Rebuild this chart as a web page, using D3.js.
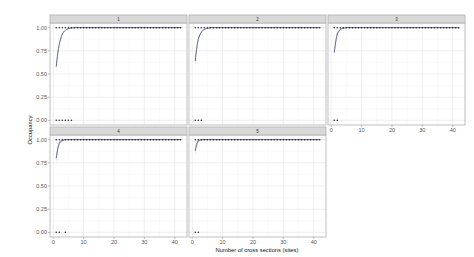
<!DOCTYPE html>
<html><head><meta charset="utf-8">
<script src="https://cdn.jsdelivr.net/npm/d3@7"></script>
<style>body{margin:0;background:#fff}svg{display:block}</style>
</head><body>
<svg id="c" width="474" height="257"></svg>
<script>
// ---- data ----
const panelLabels = ["1", "2", "3", "4", "5"];
const sites = [1,2,3,4,5,6,7,8,9,10,11,12,13,14,15,16,17,18,19,20,21,22,23,24,25,26,27,28,29,30,31,32,33,34,35,36,37,38,39,40,41,42];
// sites where species was not detected (plotted at 0)
const zeros1 = [1,2,3,4,5,6];
const zeros2 = [1,2,3];
const zeros3 = [1,2];
const zeros4 = [1,2,4];
const zeros5 = [1,2];
// fitted occupancy curve (x positions and values)
const curveX = [1,1.5,2,2.5,3,3.5,4,5,6,7,8,42];
const fit1 = [0.58,0.72,0.82,0.88,0.93,0.955,0.97,0.99,0.997,1.0,1.0,1.0];
const fit2 = [0.64,0.78,0.87,0.92,0.95,0.97,0.98,0.993,0.998,1.0,1.0,1.0];
const fit3 = [0.73,0.85,0.93,0.96,0.98,0.99,0.995,1.0,1.0,1.0,1.0,1.0];
const fit4 = [0.80,0.90,0.96,0.98,0.99,0.996,1.0,1.0,1.0,1.0,1.0,1.0];
const fit5 = [0.88,0.95,0.985,0.995,1.0,1.0,1.0,1.0,1.0,1.0,1.0,1.0];
const bandHalf = [0.05,0.035,0.025,0.015,0.01,0.006,0.004,0.002,0.001,0,0,0];
const xTicks = [0,10,20,30,40];
const yTicks = [0,0.25,0.5,0.75,1];
const yTickLabels = ["0.00","0.25","0.50","0.75","1.00"];

const zerosAll = [zeros1,zeros2,zeros3,zeros4,zeros5];
const fitsAll = [fit1,fit2,fit3,fit4,fit5];

// ---- layout ----
const svg = d3.select("#c");
const font = "'Liberation Sans', Arial, sans-serif";
const colX = [50, 189, 328];
const pw = 137;
const rows = [{strip:15, top:23, bottom:125},{strip:127, top:135, bottom:237}];

const x = d3.scaleLinear().domain([-1.05, 44.05]);
const yFor = r => d3.scaleLinear().domain([-0.05,1.05]).range([rows[r].bottom, rows[r].top]);

panelLabels.forEach((lab, i) => {
  const r = i < 3 ? 0 : 1, c = i % 3;
  const x0 = colX[c];
  const xs = x.copy().range([x0, x0 + pw]);
  const ys = yFor(r);
  const g = svg.append("g");
  const top = rows[r].top, bot = rows[r].bottom;
  g.append("rect").attr("x", x0).attr("y", top).attr("width", pw).attr("height", bot-top).attr("fill", "#fff");
  [5,15,25,35].forEach(v => g.append("line").attr("x1", xs(v)).attr("x2", xs(v)).attr("y1", top).attr("y2", bot).attr("stroke", "#f4f4f4").attr("stroke-width", 0.5));
  [0.125,0.375,0.625,0.875].forEach(v => g.append("line").attr("x1", x0).attr("x2", x0+pw).attr("y1", ys(v)).attr("y2", ys(v)).attr("stroke", "#f4f4f4").attr("stroke-width", 0.5));
  xTicks.forEach(v => g.append("line").attr("x1", xs(v)).attr("x2", xs(v)).attr("y1", top).attr("y2", bot).attr("stroke", "#e8e8e8").attr("stroke-width", 0.7));
  yTicks.forEach(v => g.append("line").attr("x1", x0).attr("x2", x0+pw).attr("y1", ys(v)).attr("y2", ys(v)).attr("stroke", "#e8e8e8").attr("stroke-width", 0.7));
  const fit = fitsAll[i];
  const band = curveX.map((cx, k) => ({x: cx, lo: Math.max(0, fit[k]-bandHalf[k]), hi: Math.min(1, fit[k]+bandHalf[k]), y: fit[k]}));
  g.append("path").datum(band).attr("fill", "#c9cde0").attr("opacity", 0.8)
    .attr("d", d3.area().x(d => xs(d.x)).y0(d => ys(d.lo)).y1(d => ys(d.hi)).curve(d3.curveMonotoneX));
  g.append("path").datum(band).attr("fill", "none").attr("stroke", "#5f6b94").attr("stroke-width", 1)
    .attr("d", d3.line().x(d => xs(d.x)).y(d => ys(d.y)).curve(d3.curveMonotoneX));
  sites.forEach(s => g.append("circle").attr("cx", xs(s)).attr("cy", ys(1)).attr("r", 0.75).attr("fill", "#1a1a2a"));
  zerosAll[i].forEach(s => g.append("circle").attr("cx", xs(s)).attr("cy", ys(0)).attr("r", 0.75).attr("fill", "#1a1a2a"));
  g.append("rect").attr("x", x0).attr("y", top).attr("width", pw).attr("height", bot-top).attr("fill", "none").attr("stroke", "#b0b0b0").attr("stroke-width", 0.8);
  g.append("rect").attr("x", x0).attr("y", rows[r].strip).attr("width", pw).attr("height", top - rows[r].strip).attr("fill", "#d9d9d9").attr("stroke", "#b0b0b0").attr("stroke-width", 0.8);
  g.append("text").attr("x", x0 + pw/2).attr("y", (rows[r].strip + top)/2 + 1.5).attr("text-anchor", "middle")
    .attr("font-family", font).attr("font-size", 4.5).attr("fill", "#333").text(lab);
  if (c === 0) {
    yTicks.forEach((v, k) => {
      g.append("line").attr("x1", x0-2).attr("x2", x0).attr("y1", ys(v)).attr("y2", ys(v)).attr("stroke", "#999").attr("stroke-width", 0.6);
      g.append("text").attr("x", x0-3).attr("y", ys(v) + 2).attr("text-anchor", "end")
        .attr("font-family", font).attr("font-size", 5.5).attr("fill", "#555").text(yTickLabels[k]);
    });
  }
  if (r === 1 || i === 2) {
    xTicks.forEach(v => {
      g.append("line").attr("x1", xs(v)).attr("x2", xs(v)).attr("y1", bot).attr("y2", bot+2).attr("stroke", "#999").attr("stroke-width", 0.6);
      g.append("text").attr("x", xs(v)).attr("y", bot + 7).attr("text-anchor", "middle")
        .attr("font-family", font).attr("font-size", 5.5).attr("fill", "#555").text(v);
    });
  }
});

svg.append("text").attr("x", 257).attr("y", 251.5).attr("text-anchor", "middle")
  .attr("font-family", font).attr("font-size", 5.8).attr("fill", "#111").text("Number of cross sections (sites)");
svg.append("text").attr("transform", "translate(32,130) rotate(-90)").attr("text-anchor", "middle")
  .attr("font-family", font).attr("font-size", 5.8).attr("fill", "#111").text("Occupancy");
</script>
</body></html>
